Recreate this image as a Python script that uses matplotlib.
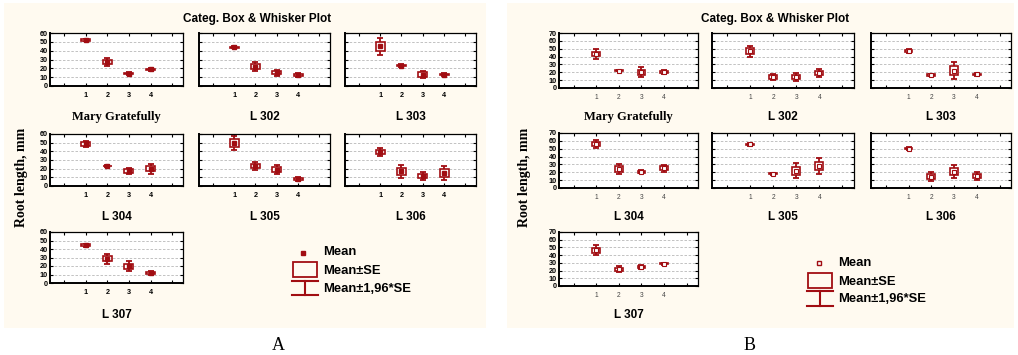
import numpy as np
import matplotlib.pyplot as plt
from matplotlib.patches import Rectangle

W, H = 1018, 355

groups = [1, 2, 3, 4]
lines = ['Mary Gratefully', 'L 302', 'L 303', 'L 304', 'L 305', 'L 306', 'L 307']

# panel A: mean and standard error for each line / group
a_mean = [[52, 27, 14, 19],
          [44, 22, 15, 12],
          [45, 23, 13, 13],
          [48.4, 23, 17.4, 19.8],
          [49.6, 22.9, 19, 8.1],
          [39.5, 17, 11.6, 15],
          [44.5, 28.3, 19.8, 11.6]]
a_se = [[0.8, 2.2, 0.8, 0.8],
        [0.7, 2.4, 1.8, 1.2],
        [4.9, 0.7, 2.3, 1.0],
        [2.0, 0.4, 2.0, 2.9],
        [4.3, 2.3, 2.7, 1.2],
        [2.4, 3.8, 2.2, 4.1],
        [1.0, 3.0, 2.9, 1.2]]

# panel B
b_mean = [[43.3, 22, 20, 20.4],
          [46.7, 14, 14, 19],
          [46.7, 16.5, 22, 17.4],
          [56, 24, 20.6, 25.3],
          [55.4, 18, 21.9, 27.9],
          [50.2, 14.6, 21, 15],
          [46.4, 21.5, 24.5, 28.8]]
b_se = [[3.0, 0.5, 3.2, 1.0],
        [3.7, 2.0, 2.8, 2.6],
        [1.3, 0.9, 5.4, 0.9],
        [2.5, 3.4, 0.9, 2.3],
        [0.7, 0.6, 4.9, 5.3],
        [0.8, 3.0, 4.4, 2.6],
        [3.4, 2.0, 1.3, 0.5]]

RED = '#a10d12'
CREAM = '#fffaf0'
SANS = 'Liberation Sans'
SERIF = 'Liberation Serif'

fig = plt.figure(figsize=(W / 100, H / 100), dpi=100)
fig.patch.set_facecolor('white')

# full-figure overlay in pixel units for backgrounds, labels and legend
ov = fig.add_axes([0, 0, 1, 1], zorder=-1)
ov.set_xlim(0, W)
ov.set_ylim(H, 0)
ov.axis('off')
top = fig.add_axes([0, 0, 1, 1], zorder=5)
top.set_xlim(0, W)
top.set_ylim(H, 0)
top.axis('off')
top.patch.set_alpha(0)

ov.add_patch(Rectangle((4, 3), 482, 325, color=CREAM, lw=0))
ov.add_patch(Rectangle((507, 3), 507, 325, color=CREAM, lw=0))


def px_axes(x0, y0, x1, y1):
    return fig.add_axes([x0 / W, 1 - y1 / H, (x1 - x0) / W, (y1 - y0) / H])


def draw_panel(cols, rows, means, ses, ymax, box_w, cap, mean_fill, tick_style):
    k = 0
    for r in range(3):
        for c in range(3):
            if r == 2 and c > 0:
                continue
            x0, x1 = cols[c]
            y0, y1 = rows[r]
            ax = px_axes(x0, y0, x1, y1)
            m = np.array(means[k])
            se = np.array(ses[k])
            ax.errorbar(groups, m, yerr=1.96 * se, fmt='none', ecolor=RED,
                        elinewidth=1.3, capsize=cap, capthick=1.3, zorder=2)
            ax.bar(groups, 2 * se, bottom=m - se, width=box_w, facecolor='white',
                   edgecolor=RED, linewidth=1.2, zorder=3)
            if mean_fill:
                ax.plot(groups, m, 's', ms=2.2, color=RED, zorder=4)
            else:
                ax.plot(groups, m, 's', ms=2.4, mfc='white', mec=RED, mew=0.8, zorder=4)
            ax.set_xlim(-0.65, 5.5)
            ax.set_ylim(0, ymax)
            ax.set_xticks(range(6))
            ax.set_xticklabels(['', '1', '2', '3', '4', ''])
            ax.set_yticks(range(0, ymax + 1, 10))
            ax.yaxis.grid(True, ls=(0, (3, 2)), color='#b8b8b8', lw=0.6)
            ax.set_axisbelow(True)
            ax.tick_params(direction='in', length=2.5, width=0.8, top=True, right=True)
            ax.tick_params(axis='y', pad=1.5)
            ax.tick_params(axis='x', pad=4)
            for lab in ax.get_yticklabels():
                lab.set_fontfamily(SANS)
                lab.set_fontweight('bold')
                lab.set_fontsize(5.2)
            for lab in ax.get_xticklabels():
                lab.set_fontfamily(SANS)
                lab.set_fontsize(tick_style[0])
                lab.set_fontweight(tick_style[1])
                lab.set_color(tick_style[2])
            if c > 0:
                ax.set_yticklabels([])
            for s in ax.spines.values():
                s.set_linewidth(0.9)
            ax.spines['left'].set_linewidth(1.4)
            ax.spines['bottom'].set_linewidth(1.4)
            name = lines[k]
            ly = 117 if r == 0 else (217 if r == 1 else 315)
            top.text((x0 + x1) / 2, ly, name, ha='center', va='center',
                     fontfamily=SERIF if k == 0 else SANS, fontweight='bold',
                     fontsize=9 if k == 0 else 8.5)
            k += 1


a_cols = [(50, 183), (199, 330), (345, 476)]
a_rows = [(33, 86), (134, 186), (232, 283)]
b_cols = [(559, 698), (712, 854), (871, 1011)]
b_rows = [(33, 88), (133, 188), (232, 286)]

draw_panel(a_cols, a_rows, a_mean, a_se, 60, 0.42, 2.2, True, (5.2, 'bold', 'black'))
draw_panel(b_cols, b_rows, b_mean, b_se, 70, 0.34, 2.0, False, (4.8, 'normal', '#444444'))

for cx, lx in [(257, 22), (775, 525)]:
    top.text(cx, 19, 'Categ. Box & Whisker Plot', ha='center', va='center',
             fontfamily=SANS, fontweight='bold', fontsize=8.5)
    top.text(lx, 177, 'Root length, mm', ha='center', va='center', rotation=90,
             fontfamily=SERIF, fontweight='bold', fontsize=10)

top.text(278, 345, 'A', ha='center', va='center', fontfamily=SERIF, fontsize=13)
top.text(750, 345, 'B', ha='center', va='center', fontfamily=SERIF, fontsize=13)


def legend(mx, my, bx, by0, by1, wy0, wy1, tx, ty, filled):
    if filled:
        top.plot(mx, my, 's', ms=3, color=RED)
    else:
        top.plot(mx, my, 's', ms=3.5, mfc='white', mec=RED, mew=1)
    top.add_patch(Rectangle((bx[0], by0), bx[1] - bx[0], by1 - by0,
                            fill=False, edgecolor=RED, lw=1.3))
    wx = (bx[0] + bx[1]) / 2
    top.plot([wx, wx], [wy0, wy1], color=RED, lw=1.5)
    top.plot([bx[0] - 1, bx[1] + 1], [wy0, wy0], color=RED, lw=1.5)
    top.plot([bx[0] - 1, bx[1] + 1], [wy1, wy1], color=RED, lw=1.5)
    for t, y in zip(['Mean', 'Mean±SE', 'Mean±1,96*SE'], ty):
        top.text(tx, y, t, ha='left', va='center', fontfamily=SANS,
                 fontweight='bold', fontsize=9.4)


legend(303, 253, (293, 317), 262, 277, 281, 295, 323, [252, 271, 289], True)
legend(819, 263, (808, 832), 273, 288, 291, 306, 838, [263, 282, 299], False)

fig.savefig('out.png', dpi=100, facecolor='white')
